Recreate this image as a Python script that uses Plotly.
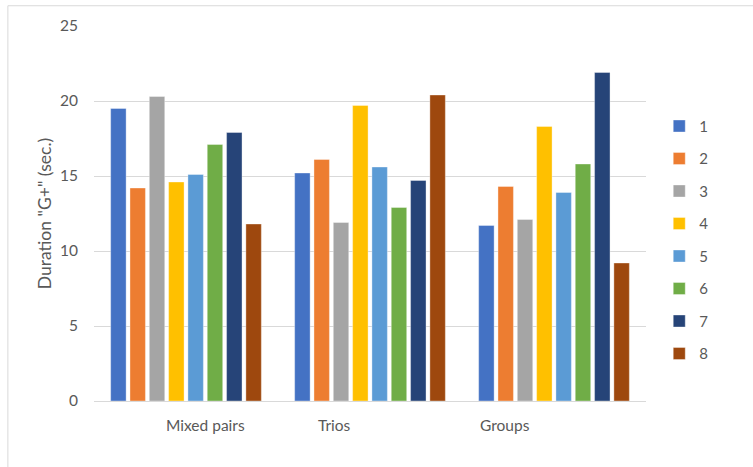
import plotly.graph_objects as go

# Groups on the x axis and the eight series (numbered 1-8)
categories = ["Mixed pairs", "Trios", "Groups"]
series_names = ["1", "2", "3", "4", "5", "6", "7", "8"]

s1 = [19.5, 15.2, 11.7]
s2 = [14.2, 16.1, 14.3]
s3 = [20.3, 11.9, 12.1]
s4 = [14.6, 19.7, 18.3]
s5 = [15.1, 15.6, 13.9]
s6 = [17.1, 12.9, 15.8]
s7 = [17.9, 14.7, 21.9]
s8 = [11.8, 20.4, 9.2]
series_values = [s1, s2, s3, s4, s5, s6, s7, s8]

colors = ["#4472C4", "#ED7D31", "#A5A5A5", "#FFC000",
          "#5B9BD5", "#70AD47", "#264478", "#9E480E"]

y_ticks = [0, 5, 10, 15, 20, 25]

FONT = "Lato, 'Open Sans', sans-serif"
TEXT_GRAY = "#595959"
GRID = "#D9D9D9"

fig = go.Figure()
for name, vals, col in zip(series_names, series_values, colors):
    fig.add_trace(go.Bar(
        x=categories, y=vals, name=name, legendgroup=name,
        marker=dict(color=col, line=dict(color="rgba(255,255,255,0.6)", width=0.6)),
    ))

# Category labels drawn as annotations so each can sit slightly off-centre
label_shift = {"Mixed pairs": 19, "Trios": -36, "Groups": -49}
annotations = [
    dict(x=c, y=0, xref="x", yref="paper", yshift=-24, xshift=label_shift[c],
         text=c, showarrow=False, xanchor="center", yanchor="middle",
         font=dict(family=FONT, size=15.5, color=TEXT_GRAY))
    for c in categories
]

# Outer frame lines (top and left edges of the chart box)
frame = dict(color=GRID, width=1)
shapes = [
    dict(type="line", xref="paper", yref="paper", x0=-0.156, x1=1.2,
         y0=1.054, y1=1.054, line=frame),
    dict(type="line", xref="paper", yref="paper", x0=-0.156, x1=-0.156,
         y0=1.054, y1=-0.2, line=frame),
]

fig.update_layout(
    width=753, height=467,
    margin=dict(l=94, r=107, t=26, b=66, autoexpand=False),
    paper_bgcolor="white", plot_bgcolor="white",
    barmode="group", bargap=0.16, bargroupgap=0.2,
    font=dict(family=FONT, size=15, color=TEXT_GRAY),
    xaxis=dict(showticklabels=False, showgrid=False, showline=False,
               ticks="", range=[-0.5, 2.5]),
    yaxis=dict(range=[0, 25], tickvals=y_ticks, showgrid=True, gridcolor=GRID,
               gridwidth=1, zeroline=True, zerolinecolor=GRID, zerolinewidth=1,
               showline=False, ticks="", ticklabelstandoff=15,
               tickfont=dict(family=FONT, size=15.5, color=TEXT_GRAY),
               title=dict(text='Duration "G+" (sec.)', standoff=3,
                          font=dict(family=FONT, size=17.5, color=TEXT_GRAY))),
    legend=dict(x=1.024, xanchor="left", y=0.43, yanchor="middle",
                tracegroupgap=10, itemwidth=30,
                font=dict(family=FONT, size=15, color=TEXT_GRAY),
                bgcolor="rgba(0,0,0,0)"),
    annotations=annotations,
    shapes=shapes,
)

fig.write_html("out.html")
